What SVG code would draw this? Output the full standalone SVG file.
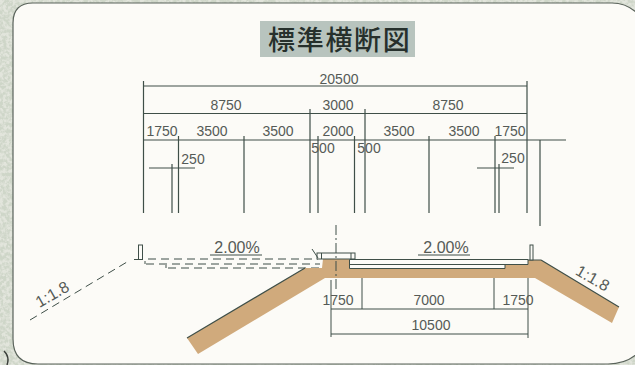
<svg xmlns="http://www.w3.org/2000/svg" width="635" height="365" viewBox="0 0 635 365">
<defs>
<style>
.l{stroke:#3f4f48;stroke-width:1;fill:none}
.h{stroke:#3f4f48;stroke-width:1.2;fill:none}
.d{stroke:#3f4f48;stroke-width:1;fill:none;stroke-dasharray:8 5}
.t{font-family:"Liberation Sans",Arial,sans-serif;font-size:14px;fill:#555a56;text-anchor:middle}
.p{font-size:16px}
.s{font-size:16px}
</style>
<filter id="stone" x="0" y="0" width="100%" height="100%">
<feTurbulence type="fractalNoise" baseFrequency="0.3" numOctaves="3" seed="4"/>
<feColorMatrix values="0 0 0 0 0.62  0 0 0 0 0.67  0 0 0 0 0.58  0 0 0 3.500 -1.200"/>
</filter>
</defs>
<g id="background">
<rect width="635" height="365" fill="#e2e5dc"/>
<rect width="635" height="365" filter="url(#stone)"/>
<path d="M33 3H612Q628 3 640 16V351Q628 364 608 364H38Q13 364 13 339V23Q13 3 33 3Z" fill="#fcfbf7" stroke="#59625a" stroke-width="1.2"/>
<path d="M4 351Q10 357 7 365" fill="none" stroke="#3a3f3a" stroke-width="1.500"/>
</g>
<g id="title">
<rect x="260" y="21" width="155" height="36" fill="#b8c4be"/>
<text x="268" y="50" font-family="'Noto Sans CJK JP','Liberation Sans',sans-serif" font-size="27" font-weight="500" letter-spacing="1.7" fill="#26302c">標準横断図</text>
</g>
<g id="connectors">
<path class="h" d="M143 86H527M143 113.500H527M143 140H566"/>
<path class="h" d="M143.500 81V213M178.500 136V213M172 164V213M244 136V213M310 109V213M318 136V213M354.500 136V213M365 109V213M429 136V213M495 136V213M499 164V213M527 81V213M540 140V226"/>
<path class="h" d="M149 168H195M477 168H514"/>
<path class="l" d="M331 280V337M362 278V309M494 278V309M528 278V338M331 309H528M331 334H528"/>
<path class="d" d="M30 320L127 262M148 259H318M146 264H320M168 268H320"/>
<path class="l" d="M145 261V264M166 265V268"/>
<path class="l" d="M210 255H262M418 255H470"/>
</g>
<g id="embankment">
<path d="M187 338L305 268H322L323 259H349V268H505V265H528V260H541L619 307L612 323L535 278H325L198 354Z" fill="#d0aa7c"/>
<path class="h" d="M187 338L305 268M541 260L619 307M528 260H541"/>
</g>
<g id="pavement">
<path d="M349.500 259.500H528V264.500H505V268.500H349.500Z" fill="#fcfbf7" stroke="#3f4f48"/>
<path class="l" d="M349.500 264.500H505"/>
</g>
<g id="median">
<rect x="317" y="253" width="38" height="6" fill="#fcfbf7" stroke="#3f4f48"/>
<path class="l" d="M312 249L318 258M321.500 253V259M351 253V259"/>
</g>
<g id="centerline"><path class="l" d="M336 225V292" stroke-dasharray="10 3 2 3"/></g>
<g id="guard-left"><rect x="138.500" y="245" width="4" height="14.500" fill="#fcfbf7" stroke="#3f4f48"/><path class="l" d="M134 259.500H143"/></g>
<g id="guard-right"><rect x="530" y="245" width="3" height="15" fill="#fcfbf7" stroke="#3f4f48"/></g>
<g id="labels">
<text class="t" x="339" y="84">20500</text>
<text class="t" x="226" y="110">8750</text>
<text class="t" x="338" y="110">3000</text>
<text class="t" x="448" y="110">8750</text>
<text class="t" x="162" y="136">1750</text>
<text class="t" x="212" y="136">3500</text>
<text class="t" x="278" y="136">3500</text>
<text class="t" x="338" y="136">2000</text>
<text class="t" x="399" y="136">3500</text>
<text class="t" x="464" y="136">3500</text>
<text class="t" x="510" y="136">1750</text>
<text class="t" x="323" y="153">500</text>
<text class="t" x="369" y="153">500</text>
<text class="t" x="193" y="164">250</text>
<text class="t" x="513" y="163">250</text>
<text class="t" x="338" y="305">1750</text>
<text class="t" x="429" y="305">7000</text>
<text class="t" x="518" y="305">1750</text>
<text class="t" x="431" y="330">10500</text>
<text class="t p" x="237" y="253">2.00%</text>
<text class="t p" x="446" y="253">2.00%</text>
<text class="t s" transform="translate(55 299) rotate(-30)">1:1.8</text>
<text class="t s" transform="translate(590 283) rotate(30)">1:1.8</text>
</g>
</svg>
